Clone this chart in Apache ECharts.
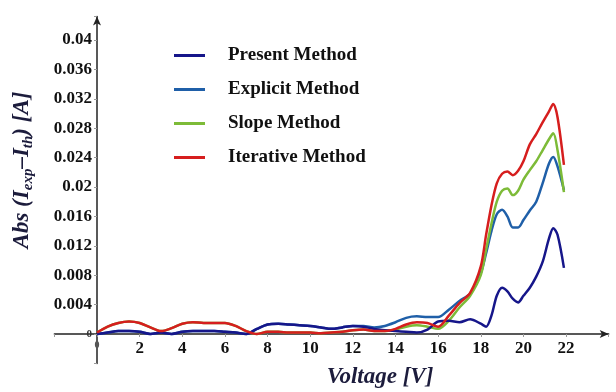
<!DOCTYPE html>
<html lang="en">
<head>
    <meta charset="UTF-8" />
    <title>Abs current error vs voltage</title>
    <script src="https://cdn.jsdelivr.net/npm/echarts@6/dist/echarts.min.js"></script>
    <style>
        body { margin: 0; background: #fff; }
    </style>
</head>
<body>
    <div id="main" style="width: 616px; height: 392px"></div>
    <script>
        // 1. 数据
        var voltage = [0, 0.5, 1, 1.5, 2, 2.5, 3, 3.5, 4, 4.5, 5, 5.5, 6, 6.5, 7, 7.5, 8, 8.5, 9, 9.5,
            10, 10.5, 11, 11.5, 12, 12.5, 13, 13.5, 14, 14.5, 15, 15.5, 16, 16.5, 17, 17.5,
            18, 18.25, 18.5, 18.75, 19, 19.25, 19.5, 19.75, 20, 20.3, 20.6, 20.9, 21.2, 21.4, 21.6, 21.9];

        var presentMethod = [0, 0.0002, 0.0004, 0.0004, 0.0003, 0, 0.0002, 0, 0.0003, 0.0004, 0.0004, 0.0004, 0.0003, 0.0002, 0, 0.0007, 0.0013, 0.0014, 0.0013, 0.0012,
            0.0011, 0.0009, 0.0007, 0.0009, 0.0011, 0.001, 0.0007, 0.0005, 0.0004, 0.0003, 0.0002, 0.0006, 0.0017, 0.0018, 0.0016, 0.002,
            0.0014, 0.001, 0.0025, 0.0052, 0.0063, 0.0058, 0.0048, 0.0043, 0.0052, 0.0063, 0.0078, 0.0098, 0.013, 0.0144, 0.0135, 0.009];

        var explicitMethod = [0, 0.0002, 0.0004, 0.0004, 0.0003, 0, 0.0002, 0, 0.0003, 0.0004, 0.0004, 0.0004, 0.0003, 0.0002, 0, 0.0007, 0.0013, 0.0014, 0.0013, 0.0012,
            0.0011, 0.0009, 0.0007, 0.0009, 0.0011, 0.0011, 0.0009, 0.0011, 0.0016, 0.0022, 0.0024, 0.0023, 0.0023, 0.0033, 0.0045, 0.0055,
            0.0083, 0.011, 0.014, 0.0163, 0.0169, 0.016, 0.0145, 0.0145, 0.0155, 0.0168, 0.018, 0.0205, 0.0232, 0.0241, 0.0228, 0.0196];

        var slopeMethod = [0.0002, 0.001, 0.0015, 0.0017, 0.0015, 0.0009, 0.0004, 0.0008, 0.0014, 0.0016, 0.0015, 0.0015, 0.0015, 0.0011, 0.0004, 0, 0.0003, 0.0003, 0.0002, 0.0002,
            0.0002, 0.0001, 0.0002, 0.0003, 0.0005, 0.0006, 0.0004, 0.0004, 0.0006, 0.001, 0.0012, 0.001, 0.0007, 0.0018, 0.0036, 0.0052,
            0.008, 0.0115, 0.015, 0.018, 0.0195, 0.0198, 0.0189, 0.0195, 0.021, 0.0223, 0.0235, 0.025, 0.0265, 0.0273, 0.025, 0.0193];

        var iterativeMethod = [0.0002, 0.001, 0.0015, 0.0017, 0.0015, 0.0009, 0.0004, 0.0008, 0.0014, 0.0016, 0.0015, 0.0015, 0.0015, 0.0011, 0.0004, 0, 0.0003, 0.0003, 0.0002, 0.0002,
            0.0002, 0.0001, 0.0002, 0.0003, 0.0005, 0.0006, 0.0004, 0.0004, 0.0007, 0.0013, 0.0016, 0.0015, 0.001, 0.0025, 0.0042, 0.0056,
            0.0092, 0.0135, 0.0175, 0.0205, 0.0218, 0.0221, 0.0216, 0.0222, 0.0235, 0.0258, 0.0272, 0.0288, 0.0303, 0.0313, 0.0295, 0.023];

        var seriesNames = ["Present Method", "Explicit Method", "Slope Method", "Iterative Method"];

        // 2. 把电压和数值配成点对
        function pairs(values) {
            return voltage.map(function (v, i) { return [v, values[i]]; });
        }

        var serif = "'Liberation Serif', 'DejaVu Serif', serif";

        // 3. 初始化
        var mCharts = echarts.init(document.getElementById("main"));

        var lineBase = { type: "line", symbol: "none", smooth: 0.3, lineStyle: { width: 2.5 } };

        // 坐标轴从原点穿过 (轴线向负方向延伸一点), 用 offset 把轴移到 0 处
        var option = {
            animation: false,
            grid: { left: 54.4, right: 7.3, top: 16.5, bottom: 28.6 },
            legend: {
                data: seriesNames,
                orient: "vertical",
                left: 169,
                top: 41,
                icon: "rect",
                itemWidth: 31,
                itemHeight: 3,
                itemGap: 15,
                textStyle: {
                    fontFamily: serif,
                    fontWeight: "bold",
                    fontSize: 19,
                    color: "#111",
                    padding: [0, 0, 0, 18],
                },
            },
            xAxis: {
                type: "value",
                min: -2,
                max: 24,
                interval: 2,
                offset: -29.4,
                splitLine: { show: false },
                axisLine: {
                    onZero: false,
                    symbol: ["none", "arrow"],
                    symbolSize: [6, 9],
                    lineStyle: { color: "#222", width: 1.5 },
                },
                axisTick: { length: 3, lineStyle: { color: "#999" } },
                axisLabel: {
                    margin: 6,
                    fontFamily: serif,
                    fontWeight: "bold",
                    fontSize: 17,
                    color: "#111",
                    formatter: function (v) {
                        if (v < 0 || v > 22.5) return "";
                        if (v === 0) return "{s|0}";
                        return String(v);
                    },
                    rich: { s: { fontSize: 10, fontFamily: serif, color: "#555" } },
                },
            },
            yAxis: {
                type: "value",
                min: -0.004,
                max: 0.0432,
                interval: 0.004,
                offset: -42.6,
                splitLine: { show: false },
                axisLine: {
                    onZero: false,
                    symbol: ["none", "arrow"],
                    symbolSize: [6, 9],
                    lineStyle: { color: "#222", width: 1.5 },
                },
                axisTick: { length: 3, lineStyle: { color: "#999" } },
                axisLabel: {
                    margin: 5,
                    fontFamily: serif,
                    fontWeight: "bold",
                    fontSize: 17,
                    color: "#111",
                    formatter: function (v) {
                        if (v < -1e-9 || v > 0.0405) return "";
                        if (Math.abs(v) < 1e-9) return "{s|0}";
                        return String(parseFloat(v.toFixed(3)));
                    },
                    rich: { s: { fontSize: 11, fontFamily: serif, color: "#333" } },
                },
            },
            graphic: [
                {
                    type: "text",
                    x: 22,
                    y: 170,
                    rotation: Math.PI / 2,
                    style: {
                        text: "{m|Abs (I}{b|exp}{m|\u2013I}{b|th}{m|) [A]}",
                        align: "center",
                        verticalAlign: "middle",
                        rich: {
                            m: { fontFamily: serif, fontStyle: "italic", fontWeight: "bold", fontSize: 23, fill: "#1c1c3c", lineHeight: 27 },
                            b: { fontFamily: serif, fontStyle: "italic", fontWeight: "bold", fontSize: 15, fill: "#1c1c3c", lineHeight: 27, verticalAlign: "bottom", padding: [9, 0, 0, 0] },
                        },
                    },
                },
                {
                    type: "text",
                    x: 380,
                    y: 377,
                    style: {
                        text: "Voltage [V]",
                        align: "center",
                        verticalAlign: "middle",
                        fontFamily: serif,
                        fontStyle: "italic",
                        fontWeight: "bold",
                        fontSize: 23,
                        fill: "#1c1c3c",
                    },
                },
            ],
            // 绘制顺序: Explicit 在 Present 下面, Slope 在 Iterative 下面
            series: [
                Object.assign({}, lineBase, { name: seriesNames[1], color: "#1f5fa8", z: 2, data: pairs(explicitMethod) }),
                Object.assign({}, lineBase, { name: seriesNames[0], color: "#16168a", z: 3, data: pairs(presentMethod) }),
                Object.assign({}, lineBase, { name: seriesNames[2], color: "#7dbb38", z: 2, data: pairs(slopeMethod) }),
                Object.assign({}, lineBase, { name: seriesNames[3], color: "#d61e1e", z: 3, data: pairs(iterativeMethod) }),
            ],
        };

        mCharts.setOption(option);
    </script>
</body>
</html>
